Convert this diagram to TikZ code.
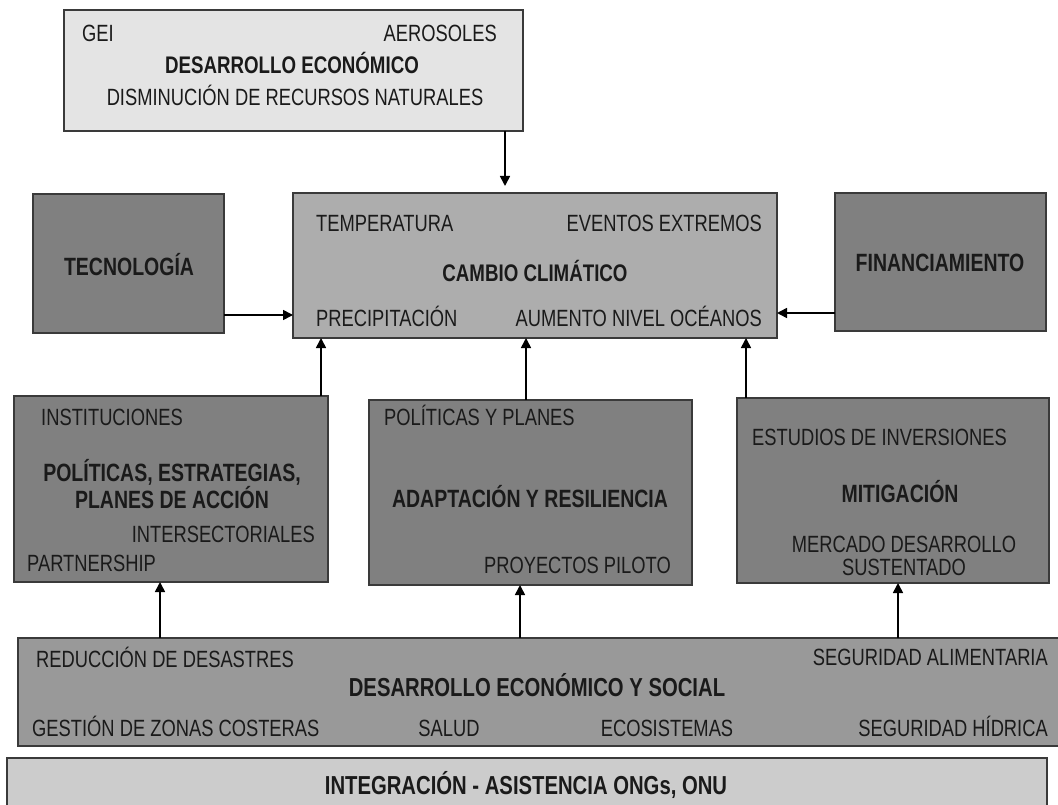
\documentclass[tikz,border=0pt]{standalone}
\usepackage{fontspec}
\setmainfont{Liberation Sans}[FakeStretch=0.78]
\usetikzlibrary{arrows.meta,calc}
\definecolor{fTop}{HTML}{E4E4E4}
\definecolor{fCC}{HTML}{ADADAD}
\definecolor{fDark}{HTML}{808080}
\definecolor{fDes}{HTML}{999999}
\definecolor{fInt}{HTML}{CCCCCC}
\definecolor{edge}{HTML}{3A3A3A}
\definecolor{ink}{HTML}{1A1A1A}
\tikzset{
  box/.style={draw=edge, line width=1.2pt, inner sep=0pt, outer sep=0pt, anchor=north west},
  lbl/.style={inner sep=0pt, text=ink, font=\fontsize{23.5}{26}\selectfont},
  blbl/.style={lbl, font=\fontsize{25}{28}\selectfont\bfseries},
  blblS/.style={lbl, font=\fontsize{24}{27}\selectfont\bfseries},
  blblL/.style={lbl, font=\fontsize{26}{29}\selectfont\bfseries},
  arr/.style={line width=1.6pt, draw=black, -{Triangle[width=10pt,length=10pt]}}
}
\begin{document}
\begin{tikzpicture}[x=1pt,y=-1pt]
\useasboundingbox (0,0) rectangle (1058,805);
\clip (0,0) rectangle (1058,805);
% boxes
\node[box, fill=fTop, minimum width=459pt, minimum height=121pt] (top) at (64,10) {};
\node[box, fill=fCC, minimum width=484pt, minimum height=145pt] (cc) at (293,193) {};
\node[box, fill=fDark, minimum width=191pt, minimum height=139pt] (tec) at (33,194) {};
\node[box, fill=fDark, minimum width=211pt, minimum height=138pt] (fin) at (835,193) {};
\node[box, fill=fDark, minimum width=314pt, minimum height=186pt] (pol) at (14,396) {};
\node[box, fill=fDark, minimum width=323pt, minimum height=185pt] (ada) at (369,400) {};
\node[box, fill=fDark, minimum width=312pt, minimum height=185pt] (mit) at (737,398) {};
\node[box, fill=fDes, minimum width=1044pt, minimum height=108pt] (des) at (18,638) {};
\node[box, fill=fInt, minimum width=1040pt, minimum height=60pt] (int) at (7,758) {};
% texts: top
\node[lbl, anchor=base west] (t1) at (82,42) {GEI};
\node[lbl, anchor=base east] (t2) at (497,42) {AEROSOLES};
\node[blblS, anchor=base] (t3) at (292,74) {DESARROLLO ECONÓMICO};
\node[lbl, anchor=base] (t4) at (295,106) {DISMINUCIÓN DE RECURSOS NATURALES};
% cc
\node[lbl, anchor=base west] (t5) at (316,232) {TEMPERATURA};
\node[lbl, anchor=base east] (t6) at (762,232) {EVENTOS EXTREMOS};
\node[blblS, anchor=base] (t7) at (535,281) {CAMBIO CLIMÁTICO};
\node[lbl, anchor=base west] (t8) at (316,326) {PRECIPITACIÓN};
\node[lbl, anchor=base east] (t9) at (762,326) {AUMENTO NIVEL OCÉANOS};
% side
\node[blbl, anchor=base] (t10) at (129,276) {TECNOLOGÍA};
\node[blbl, anchor=base] (t11) at (940,272) {FINANCIAMIENTO};
% pol
\node[lbl, anchor=base west] (t12) at (41,425) {INSTITUCIONES};
\node[blbl, anchor=base] (t13) at (172,481) {POLÍTICAS, ESTRATEGIAS,};
\node[blbl, anchor=base] (t14) at (172,508) {PLANES DE ACCIÓN};
\node[lbl, anchor=base east] (t15) at (315,542) {INTERSECTORIALES};
\node[lbl, anchor=base west] (t16) at (27,571) {PARTNERSHIP};
% ada
\node[lbl, anchor=base west] (t17) at (384,425) {POLÍTICAS Y PLANES};
\node[blbl, anchor=base] (t18) at (530,507) {ADAPTACIÓN Y RESILIENCIA};
\node[lbl, anchor=base east] (t19) at (671,573) {PROYECTOS PILOTO};
% mit
\node[lbl, anchor=base west] (t20) at (752,445) {ESTUDIOS DE INVERSIONES};
\node[blbl, anchor=base] (t21) at (900,502) {MITIGACIÓN};
\node[lbl, anchor=base] (t22) at (904,552) {MERCADO DESARROLLO};
\node[lbl, anchor=base] (t23) at (904,575) {SUSTENTADO};
% des
\node[lbl, anchor=base west] (t24) at (36,667) {REDUCCIÓN DE DESASTRES};
\node[lbl, anchor=base east] (t25) at (1048,665) {SEGURIDAD ALIMENTARIA};
\node[blblL, anchor=base] (t26) at (537,696) {DESARROLLO ECONÓMICO Y SOCIAL};
\node[lbl, anchor=base west] (t27) at (32,736) {GESTIÓN DE ZONAS COSTERAS};
\node[lbl, anchor=base] (t28) at (449,736) {SALUD};
\node[lbl, anchor=base] (t29) at (667,736) {ECOSISTEMAS};
\node[lbl, anchor=base east] (t30) at (1048,736) {SEGURIDAD HÍDRICA};
% int
\node[blblL, anchor=base] (t31) at (526,794) {INTEGRACIÓN - ASISTENCIA ONGs, ONU};
% connector guide coordinates
\coordinate (xTop) at (505,0);
\coordinate (xPol) at (321,0);
\coordinate (xAda) at (526,0);
\coordinate (xMit) at (746,0);
\coordinate (xD1) at (160,0);
\coordinate (xD2) at (520,0);
\coordinate (xD3) at (898,0);
\coordinate (yTec) at (0,315);
\coordinate (yFin) at (0,313);
% connectors
\draw[arr] (top.south -| xTop) -- ($(cc.north -| xTop)+(0,-7)$);
\draw[arr] (tec.east |- yTec) -- (cc.west |- yTec);
\draw[arr] (fin.west |- yFin) -- (cc.east |- yFin);
\draw[arr] (pol.north -| xPol) -- (cc.south -| xPol);
\draw[arr] (ada.north -| xAda) -- (cc.south -| xAda);
\draw[arr] (mit.north -| xMit) -- (cc.south -| xMit);
\draw[arr] (des.north -| xD1) -- (pol.south -| xD1);
\draw[arr] (des.north -| xD2) -- (ada.south -| xD2);
\draw[arr] (des.north -| xD3) -- (mit.south -| xD3);
\end{tikzpicture}
\end{document}
